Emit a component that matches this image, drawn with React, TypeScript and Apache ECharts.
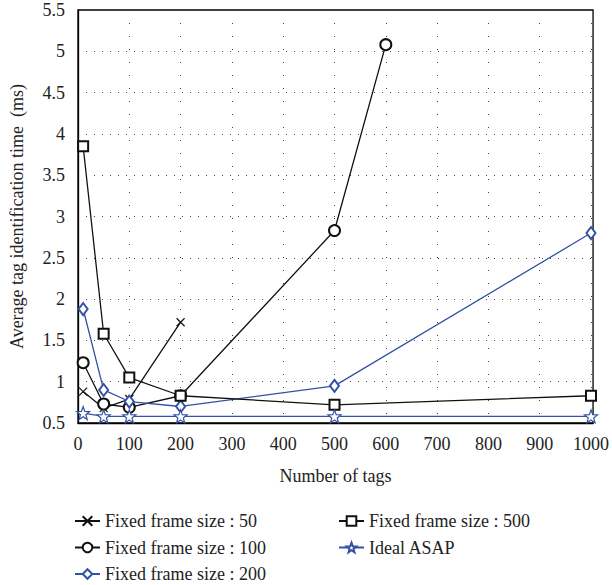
import React, { useEffect, useRef } from "react";
import * as echarts from "echarts";

const fixed50: [number, number][] = [[10, 0.88], [50, 0.68], [100, 0.79], [200, 1.72]];
const fixed100: [number, number][] = [[10, 1.23], [50, 0.73], [100, 0.69], [200, 0.83], [500, 2.83], [600, 5.08]];
const fixed200: [number, number][] = [[10, 1.88], [50, 0.9], [100, 0.76], [200, 0.7], [500, 0.95], [1000, 2.8]];
const fixed500: [number, number][] = [[10, 3.85], [50, 1.58], [100, 1.05], [200, 0.83], [500, 0.72], [1000, 0.83]];
const idealAsap: [number, number][] = [[10, 0.62], [50, 0.58], [100, 0.58], [200, 0.58], [500, 0.58], [1000, 0.58]];

const seriesNames = [
  "Fixed frame size : 50",
  "Fixed frame size : 100",
  "Fixed frame size : 200",
  "Fixed frame size : 500",
  "Ideal ASAP",
];

const BLACK = "#111";
const BLUE = "#3352a6";
const FONT = "Liberation Serif";
const STAR =
  "path://M10,0 L12.47,6.6 L19.51,6.91 L13.99,11.3 L15.88,18.09 L10,14.2 L4.12,18.09 L6.01,11.3 L0.49,6.91 L7.53,6.6 Z";
const CROSS = "path://M0,0L10,10M10,0L0,10";

export default function App() {
  const ref = useRef<HTMLDivElement>(null);
  useEffect(() => {
    if (!ref.current) return;
    const chart = echarts.init(ref.current, null, { renderer: "svg" });
    const mk = (name: string, data: [number, number][], color: string, symbol: string, size: number | number[], extra: any = {}) => ({
      name,
      type: "line",
      data,
      symbol,
      symbolSize: size,
      showAllSymbol: true,
      lineStyle: { color, width: 1.3 },
      itemStyle: { color, borderColor: color, borderWidth: 1.2, ...extra },
      emphasis: { disabled: true },
    });
    const legendBase = {
      top: 507,
      orient: "vertical",
      itemWidth: 25,
      itemHeight: 12,
      itemGap: 8.5,
      height: 78,
      textStyle: { fontFamily: FONT, fontSize: 18, color: "#222", lineHeight: 18 },
      selectedMode: false,
    };
    chart.setOption({
      animation: false,
      backgroundColor: "#fff",
      textStyle: { fontFamily: FONT },
      grid: {
        left: 76,
        right: 12,
        top: 10,
        bottom: 162,
        show: true,
        borderColor: "#000",
        borderWidth: 1.3,
      },
      xAxis: {
        type: "value",
        min: 0,
        max: 1004,
        interval: 100,
        name: "Number of tags",
        nameLocation: "middle",
        nameGap: 44,
        nameTextStyle: { fontFamily: FONT, fontSize: 18, color: "#222" },
        axisLine: { show: true, lineStyle: { color: "#000", width: 1.3 } },
        axisTick: { show: false },
        axisLabel: {
          showMaxLabel: false,
          fontFamily: FONT,
          fontSize: 18,
          color: "#222",
          margin: 12,
          formatter: (v: number) => String(v),
        },
        splitLine: { show: true, lineStyle: { color: "#444", width: 1, type: [1, 12] } },
      },
      yAxis: {
        type: "value",
        min: 0.5,
        max: 5.5,
        interval: 0.5,
        name: "Average tag identification time  (ms)",
        nameLocation: "middle",
        nameGap: 52,
        nameTextStyle: { fontFamily: FONT, fontSize: 18, color: "#222" },
        axisLine: { show: true, lineStyle: { color: "#000", width: 1.3 } },
        axisTick: { show: false },
        axisLabel: { fontFamily: FONT, fontSize: 18, color: "#222", margin: 13 },
        splitLine: { show: true, lineStyle: { color: "#444", width: 1, type: [1, 7] } },
      },
      legend: [
        { ...legendBase, left: 69, data: seriesNames.slice(0, 3) },
        { ...legendBase, left: 333, data: seriesNames.slice(3) },
      ],
      series: [
        mk(seriesNames[0], fixed50, BLACK, CROSS, 8),
        mk(seriesNames[1], fixed100, BLACK, "emptyCircle", 11),
        mk(seriesNames[2], fixed200, BLUE, "emptyDiamond", [9, 12]),
        mk(seriesNames[3], fixed500, BLACK, "emptyRect", 10),
        mk(seriesNames[4], idealAsap, BLUE, STAR, 13, { color: "#fff" }),
      ],
    });
    return () => chart.dispose();
  }, []);
  return (
    <div
      ref={ref}
      style={{ position: "fixed", left: 0, top: 0, width: 612, height: 585, background: "#fff" }}
    />
  );
}
